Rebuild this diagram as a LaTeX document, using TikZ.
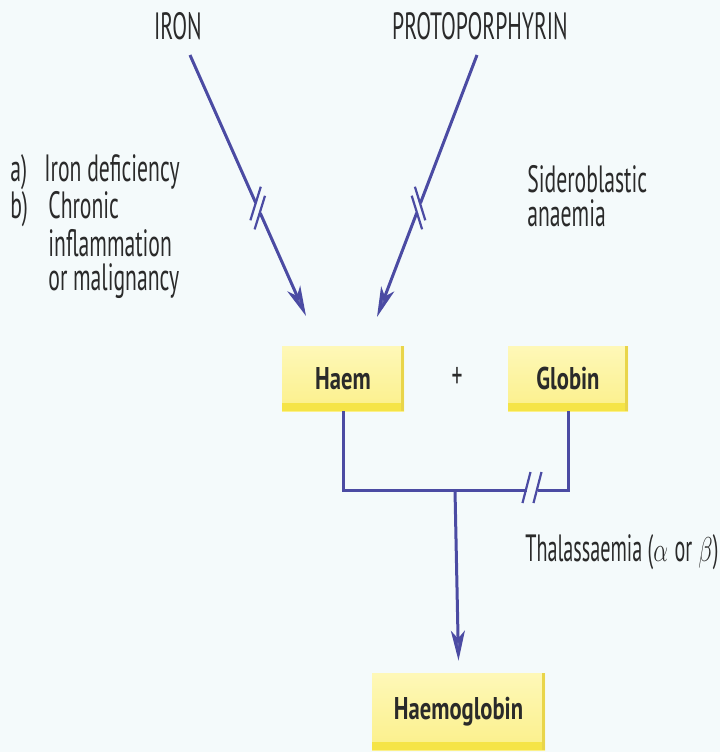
\documentclass[tikz,border=0pt]{standalone}
\usepackage{fontspec}
\setmainfont[FakeStretch=0.57]{PT Sans}
\newfontfamily\boxfont[FakeStretch=0.72]{PT Sans}
\newfontfamily\thfont[FakeStretch=0.53]{PT Sans}
\usetikzlibrary{arrows.meta}
\definecolor{bg}{HTML}{F4FAFB}
\definecolor{ln}{HTML}{4B4BA3}
\definecolor{tx}{HTML}{2A2A2A}
\definecolor{boxa}{HTML}{FEF8B8}
\definecolor{boxm}{HTML}{FBF08A}
\definecolor{boxb}{HTML}{F5E447}
\definecolor{boxc}{HTML}{E9D54A}
\newcommand{\gk}[1]{\scalebox{0.68}[1]{$#1$}}
\begin{document}
\begin{tikzpicture}[x=0.5pt,y=-0.5pt,
  lbl/.style={text=tx,font=\fontsize{19}{17}\selectfont,inner sep=0pt},
  ybox/.style={inner sep=0pt,top color=boxa,bottom color=boxm,text=tx,
    font=\boxfont\bfseries\fontsize{15.7}{18}\selectfont,
    path picture={
      \fill[boxc] (path picture bounding box.north east) ++(-1.6pt,0) rectangle (path picture bounding box.south east);
      \fill[boxb] (path picture bounding box.south west) ++(0,4pt) rectangle ([xshift=-1.6pt]path picture bounding box.south east);
    }},
  conn/.style={draw=ln,line width=1.5pt},
  arr/.style={conn,-{Stealth[length=15pt,width=7pt,inset=4pt,fill=ln!85!white]}},
  brkmark/.style={draw=ln,line width=1.1pt},
  gap/.style={draw=bg,line width=3.5pt}]
\useasboundingbox[fill=bg] (0,0) rectangle (720,752);

% labels
\node[lbl] (iron) at (178,26) {IRON};
\node[lbl] (proto) at (480,26) {PROTOPORPHYRIN};
\node[lbl,anchor=base west,align=left] (causes) at (10,290)
  {\makebox[17pt][l]{a)}Iron deficiency\\
   \makebox[19pt][l]{b)}Chronic\\
   \hspace*{19pt}inflammation\\
   \hspace*{19pt}or malignancy};
\node[lbl,anchor=base west,align=left] (sidero) at (527,226) {Sideroblastic\\anaemia};
\node[lbl,anchor=base west,font=\thfont\fontsize{19}{17}\selectfont] (th) at (525,561) {Thalassaemia (\gk{\alpha}\,or\,\gk{\beta})};

% boxes
\node[ybox,minimum width=61pt,minimum height=32.5pt] (haem) at (343,378.5) {Haem};
\node[ybox,minimum width=60pt,minimum height=32.5pt] (globin) at (568,378.5) {Globin};
\node[lbl] (plus) at (457,378) {+};
\node[ybox,minimum width=86.5pt,minimum height=38.5pt] (hb) at (458.5,711.5) {Haemoglobin};

% diagonal arrows
\coordinate (ironS) at (190,55);
\coordinate (ironT) at (306,316);
\coordinate (protoS) at (477,55);
\coordinate (protoT) at (377,317);
\draw[arr] (ironS) -- (ironT);
\draw[arr] (protoS) -- (protoT);

% breaks on diagonals
\draw[gap] (255.8,203.0) -- (260.2,213.0);
\draw[brkmark] (260.8,186.7) -- (250.4,220.3);
\draw[brkmark] (265.0,195.8) -- (254.6,229.4);
\draw[gap] (420.4,203.3) -- (416.8,212.7);
\draw[brkmark] (414.9,186.7) -- (425.3,220.3);
\draw[brkmark] (411.7,195.7) -- (422.1,229.3);

% bottom connectors
\coordinate (join) at (455,490);
\draw[conn] (haem.south) |- (join) -| (globin.south);
\draw[arr] (join) -- ([yshift=6pt]hb.north);

% thalassaemia break
\draw[gap] (526.5,490) -- (537.5,490);
\draw[brkmark] (530.5,472) -- (522.5,503);
\draw[brkmark] (541.5,472) -- (533.5,503);
\end{tikzpicture}
\end{document}
